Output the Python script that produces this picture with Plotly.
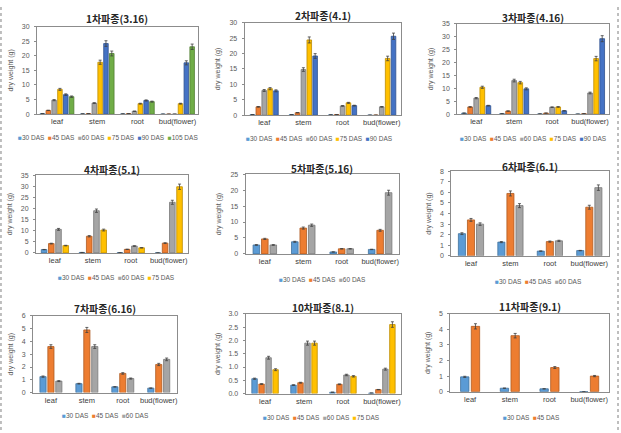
import plotly.graph_objects as go

categories = ["leaf", "stem", "root", "bud(flower)"]

titles = ["1차파종(3.16)", "2차파종(4.1)", "3차파종(4.16)",
          "4차파종(5.1)", "5차파종(5.16)", "6차파종(6.1)",
          "7차파종(6.16)", "10차파종(8.1)", "11차파종(9.1)"]

# dry weight (g) per panel, series = DAS
p1 = {"30 DAS": [0.2, 0.1, 0.1, 0.0], "45 DAS": [1.3, 0.2, 0.2, 0.0],
      "60 DAS": [4.8, 3.8, 1.0, 0.0], "75 DAS": [8.5, 17.8, 3.6, 3.6],
      "90 DAS": [6.7, 24.2, 4.7, 17.6], "105 DAS": [6.0, 20.8, 4.3, 23.1]}
p2 = {"30 DAS": [0.2, 0.2, 0.1, 0.0], "45 DAS": [2.7, 0.8, 0.2, 0.0],
      "60 DAS": [8.0, 14.8, 3.0, 2.7], "75 DAS": [8.6, 24.4, 4.0, 18.4],
      "90 DAS": [7.9, 19.2, 3.1, 25.6]}
p3 = {"30 DAS": [0.4, 0.2, 0.1, 0.0], "45 DAS": [2.8, 1.2, 0.4, 0.2],
      "60 DAS": [6.2, 13.0, 2.7, 8.2], "75 DAS": [10.4, 12.2, 2.8, 21.5],
      "90 DAS": [3.3, 9.8, 1.3, 29.2]}
p4 = {"30 DAS": [1.5, 0.2, 0.1, 0.0], "45 DAS": [4.2, 7.5, 1.6, 4.4],
      "60 DAS": [10.6, 19.0, 3.1, 22.8], "75 DAS": [3.3, 10.3, 2.3, 29.8]}
p5 = {"30 DAS": [2.8, 3.8, 0.6, 1.4], "45 DAS": [4.7, 8.1, 1.6, 7.4],
      "60 DAS": [2.8, 9.0, 1.6, 19.2]}
p6 = {"30 DAS": [2.1, 1.3, 0.45, 0.5], "45 DAS": [3.4, 5.9, 1.35, 4.6],
      "60 DAS": [3.0, 4.75, 1.42, 6.45]}
p7 = {"30 DAS": [1.25, 0.7, 0.45, 0.35], "45 DAS": [3.6, 4.9, 1.5, 2.2],
      "60 DAS": [0.9, 3.6, 1.1, 2.6]}
p8 = {"30 DAS": [0.56, 0.32, 0.05, 0.02], "45 DAS": [0.36, 0.41, 0.35, 0.15],
      "60 DAS": [1.35, 1.9, 0.7, 0.92], "75 DAS": [0.9, 1.9, 0.65, 2.6]}
p9 = {"30 DAS": [0.95, 0.22, 0.18, 0.0], "45 DAS": [4.2, 3.6, 1.55, 1.0]}

panels = [p1, p2, p3, p4, p5, p6, p7, p8, p9]

y_max = [30, 30, 35, 35, 25, 8, 6, 3.0, 5]
y_dtick = [5, 5, 5, 5, 5, 1, 1, 0.5, 1]

fill = {"30 DAS": "#5B9BD5", "45 DAS": "#ED7D31", "60 DAS": "#A5A5A5",
        "75 DAS": "#FFC000", "90 DAS": "#4472C4", "105 DAS": "#70AD47"}
edge = {"30 DAS": "#41719C", "45 DAS": "#AE5A21", "60 DAS": "#787878",
        "75 DAS": "#BC8C00", "90 DAS": "#2F528F", "105 DAS": "#507E32"}

W, H = 621, 433
# plot-area boxes in px: x0, x1, y_top, y_bottom
boxes = [(37, 198, 23, 112), (245, 402, 19, 113), (458, 610, 20, 112),
         (36, 188, 174, 253), (246, 400, 173, 254), (452, 610, 170, 256),
         (33, 177, 317, 395), (246, 402, 315, 396), (451, 610, 315, 394)]
title_y = [15, 12, 14, 168, 167, 165, 310, 308, 307]
legend_y = [136, 137, 137, 278, 280, 282, 418, 420, 420]
legend_x = [108, 320, 534, 117, 323, 539, 106, 322, 532]
steps = [0.145, 0.15, 0.16, 0.19, 0.22, 0.23, 0.22, 0.18, 0.27]

FONT = "Noto Sans CJK KR, Noto Sans, sans-serif"
LAT = "Liberation Sans, Arial, sans-serif"
fig = go.Figure()
layout = dict(width=W, height=H, margin=dict(l=0, r=0, t=0, b=0),
              paper_bgcolor="white", plot_bgcolor="white", barmode="overlay",
              showlegend=False, font=dict(family=LAT, size=7, color="#595959"))
annotations = []
for i, data in enumerate(panels):
    k = i + 1
    xa = "x" if k == 1 else f"x{k}"
    ya = "y" if k == 1 else f"y{k}"
    names = list(data.keys())
    n = len(names)
    step = steps[i]
    bw = step * 0.78
    for j, nm in enumerate(names):
        off = (j - (n - 1) / 2) * step - bw / 2
        fig.add_trace(go.Bar(
            x=categories, y=data[nm], name=nm, xaxis=xa, yaxis=ya,
            width=bw, offset=off,
            marker=dict(color=fill[nm], line=dict(color=edge[nm], width=0.8)),
            error_y=dict(type="percent", value=4, color="#404040",
                         thickness=0.8, width=1.5),
            showlegend=False))
    x0, x1, yt, yb = boxes[i]
    xkey = "xaxis" if k == 1 else f"xaxis{k}"
    ykey = "yaxis" if k == 1 else f"yaxis{k}"
    layout[xkey] = dict(domain=[x0 / W, x1 / W], anchor=ya, type="category",
                        showline=True, linecolor="#8C8C8C", linewidth=1, mirror=True,
                        ticks="", ticklen=0, showgrid=False, ticklabelstandoff=0,
                        tickfont=dict(size=7.5, color="#404040", family=LAT),
                        range=[-0.5, 3.5])
    layout[ykey] = dict(domain=[1 - yb / H, 1 - yt / H], anchor=xa,
                        range=[0, y_max[i]], dtick=y_dtick[i],
                        tickformat=".1f" if y_dtick[i] < 1 else "d",
                        showline=True, linecolor="#8C8C8C", linewidth=1, mirror=True,
                        ticks="outside", ticklen=2, tickcolor="#8C8C8C",
                        showgrid=False, zeroline=False, ticklabelstandoff=3,
                        tickfont=dict(size=7, color="#595959", family=LAT),
                        title=dict(text="dry weight (g)",
                                   font=dict(size=7, color="#595959", family=LAT),
                                   standoff=7))
    cx = (x0 + x1) / 2 / W
    annotations.append(dict(text=f"<b>{titles[i]}</b>", x=cx, y=1 - title_y[i] / H,
                            xref="paper", yref="paper", showarrow=False,
                            xanchor="center", yanchor="middle",
                            font=dict(size=10, color="#262626", family=FONT)))
    leg = "\u00a0\u00a0".join(
        f"<span style='color:{fill[nm]}'>■</span>{nm}" for nm in names)
    annotations.append(dict(text=leg, x=legend_x[i] / W, y=1 - legend_y[i] / H,
                            xref="paper", yref="paper", showarrow=False,
                            xanchor="center", yanchor="middle",
                            font=dict(size=6.5, color="#595959", family=LAT)))
layout["annotations"] = annotations
layout["shapes"] = [
    dict(type="line", xref="paper", yref="paper", x0=1 / W, x1=1 / W, y0=0, y1=1,
         line=dict(color="#7F7F7F", width=1, dash="dot")),
    dict(type="line", xref="paper", yref="paper", x0=619 / W, x1=619 / W, y0=0, y1=1,
         line=dict(color="#7F7F7F", width=1, dash="dot")),
]
fig.update_layout(**layout)
fig.write_html("out.html", config={"displayModeBar": False},
               post_script="document.body.style.margin='0';document.body.style.overflow='hidden';")
